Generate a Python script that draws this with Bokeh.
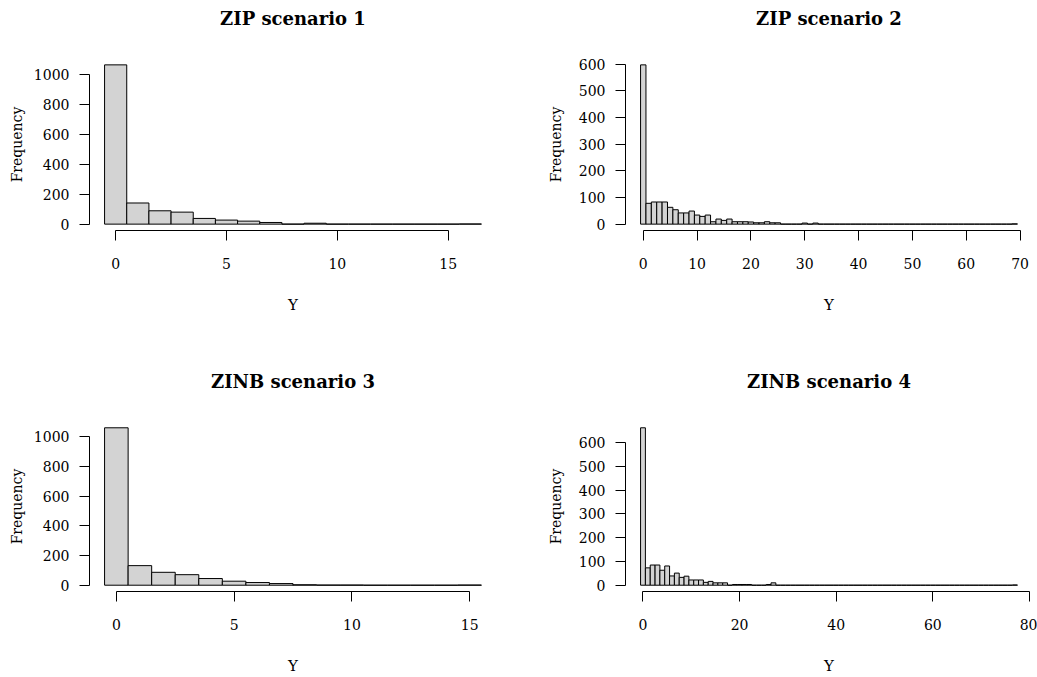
from bokeh.plotting import figure
from bokeh.layouts import column, row
from bokeh.models import Range1d, FixedTicker, ColumnDataSource, LinearAxis
from bokeh.embed import file_html
from bokeh.resources import INLINE

# ---- data (histogram counts per integer value of Y, bins centred on 0,1,2,...) ----
zip1_counts = [1062, 141, 89, 80, 38, 27, 20, 11, 0, 6, 0, 0, 0, 0, 0, 0, 1]
zip2_counts = [597, 78, 83, 83, 83, 63, 54, 42, 42, 49,
               34, 29, 34, 9, 19, 14, 19, 9, 9, 9,
               8, 5, 5, 9, 5, 5, 0, 0, 0, 0,
               4, 0, 4, 0, 0, 0, 0, 0, 0, 0,
               0, 0, 0, 0, 0, 0, 0, 0, 0, 0,
               0, 0, 0, 0, 0, 0, 0, 0, 0, 0,
               0, 0, 0, 0, 0, 0, 0, 0, 0, 1]
zinb3_counts = [1062, 132, 87, 71, 45, 27, 18, 11, 3, 1, 1, 0, 0, 0, 0, 1]
zinb4_counts = [663, 73, 85, 85, 63, 81, 39, 51, 33, 38,
                22, 22, 22, 12, 16, 10, 10, 10, 0, 3,
                3, 3, 3, 0, 0, 0, 3, 10, 0, 0,
                0, 0, 0, 0, 0, 0, 0, 0, 0, 0,
                0, 0, 0, 0, 0, 0, 0, 0, 0, 0,
                0, 0, 0, 0, 0, 0, 0, 0, 0, 0,
                0, 0, 0, 0, 0, 0, 0, 0, 0, 0,
                0, 0, 0, 0, 0, 0, 0, 1]

titles = ["ZIP scenario 1", "ZIP scenario 2", "ZINB scenario 3", "ZINB scenario 4"]
x_ticks = [[0, 5, 10, 15], [0, 10, 20, 30, 40, 50, 60, 70], [0, 5, 10, 15], [0, 20, 40, 60, 80]]
y_ticks = [[0, 200, 400, 600, 800, 1000], [0, 100, 200, 300, 400, 500, 600],
           [0, 200, 400, 600, 800, 1000], [0, 100, 200, 300, 400, 500, 600]]
x_label = "Y"
y_label = "Frequency"

FONT = "DejaVu Serif"


def hist_panel(counts, title, xt, yt, width, height, left, right, top, bottom, ylab_standoff):
    n = len(counts)
    lo, hi = -0.5, n - 0.5
    span = hi - lo
    ymax = max(counts)
    p = figure(width=width, height=height, output_backend="svg", toolbar_location=None,
               x_range=Range1d(lo - 0.04 * span, hi + 0.04 * span),
               y_range=Range1d(-0.04 * ymax, 1.04 * ymax),
               min_border_left=left, min_border_right=right,
               min_border_top=top, min_border_bottom=bottom)
    src = ColumnDataSource(dict(left=[i - 0.5 for i in range(n)],
                                right=[i + 0.5 for i in range(n)],
                                top=counts, bottom=[0] * n))
    p.quad(left="left", right="right", top="top", bottom="bottom", source=src,
           fill_color="#D3D3D3", line_color="black", line_width=1)
    p.outline_line_color = None
    p.grid.visible = False
    p.background_fill_color = "white"
    p.border_fill_color = "white"

    xa = p.below[0]
    ya = p.left[0]
    for ax in (xa, ya):
        ax.axis_line_color = "black"
        ax.axis_line_width = 1
        ax.major_tick_line_color = "black"
        ax.major_tick_out = 10
        ax.major_tick_in = 0
        ax.minor_tick_line_color = None
        ax.major_label_text_font = FONT
        ax.major_label_text_font_size = "14px"
        ax.major_label_text_color = "black"
        ax.axis_label_text_font = FONT
        ax.axis_label_text_font_style = "normal"
        ax.axis_label_text_color = "black"

    xa.ticker = FixedTicker(ticks=xt)
    xa.bounds = (xt[0], xt[-1])
    xa.major_label_standoff = 17
    xa.axis_label = x_label
    xa.axis_label_text_font_size = "15px"
    xa.axis_label_standoff = 24

    ya.ticker = FixedTicker(ticks=yt)
    ya.bounds = (yt[0], yt[-1])
    ya.major_label_orientation = "horizontal"
    ya.major_label_standoff = 10
    ya.axis_label = y_label
    ya.axis_label_text_font_size = "14px"
    ya.axis_label_standoff = ylab_standoff

    # panel title drawn as the label of a bare axis above the frame
    tax = LinearAxis(ticker=FixedTicker(ticks=[]), axis_line_color=None,
                     major_tick_line_color=None, minor_tick_line_color=None,
                     major_tick_out=0, major_tick_in=0, minor_tick_out=0, minor_tick_in=0,
                     major_label_standoff=0, axis_label=title,
                     axis_label_text_font=FONT, axis_label_text_font_style="bold",
                     axis_label_text_font_size="18px", axis_label_text_color="black",
                     axis_label_standoff=30)
    p.add_layout(tax, "above")
    return p


p1 = hist_panel(zip1_counts, titles[0], x_ticks[0], y_ticks[0], 518, 338, 89, 22, 58, 108, 6)
p2 = hist_panel(zip2_counts, titles[1], x_ticks[1], y_ticks[1], 519, 338, 107, 5, 58, 108, 12)
p3 = hist_panel(zinb3_counts, titles[2], x_ticks[2], y_ticks[2], 518, 339, 89, 22, 83, 85, 6)
p4 = hist_panel(zinb4_counts, titles[3], x_ticks[3], y_ticks[3], 519, 339, 107, 5, 83, 85, 12)

layout = column(row(p1, p2), row(p3, p4))
open("out.html", "w").write(file_html(layout, INLINE))
